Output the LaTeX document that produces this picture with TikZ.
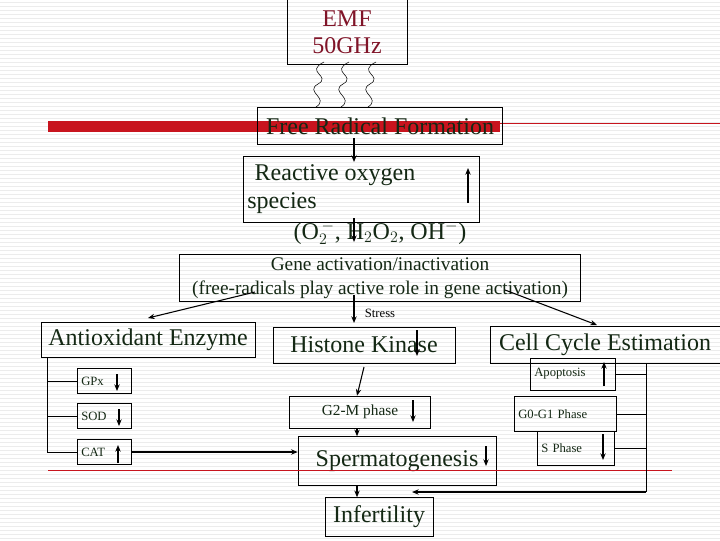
\documentclass[tikz,border=0pt]{standalone}
\usepackage{fontspec}
\setmainfont{Liberation Serif}
\usetikzlibrary{arrows.meta}
\definecolor{emfred}{RGB}{128,20,40}
\definecolor{bandred}{RGB}{200,20,30}
\definecolor{txtgreen}{RGB}{20,40,20}
\begin{document}
\begin{tikzpicture}[x=0.75pt,y=-0.75pt,every path/.style={thick},
  box/.style={draw,thin,rectangle,inner sep=0pt,text=txtgreen},
  sbox/.style={box,small,align=left,inner xsep=3pt,minimum height=18.75},
  arr/.style={-{Stealth[length=5pt,width=4pt]}},
  big/.style={font=\fontsize{18}{20}\selectfont},
  mid/.style={font=\fontsize{14.5}{18}\selectfont},
  small/.style={font=\fontsize{9.5}{11}\selectfont}]
  \useasboundingbox (0,0) rectangle (720,540);
  % stripes
  \foreach \y in {2,6,...,538} \draw[very thin,gray!15] (0,\y) -- (720,\y);
  % top
  \node[box,minimum width=90,minimum height=48.75,text=emfred,big,align=center] (emf) at (347,32) {EMF\\50GHz};
  \foreach \x in {318,343,370}
    \draw[thin] (\x+6,62) .. controls (\x-14,72) and (\x+14,76) .. (\x,84)
      .. controls (\x-14,92) and (\x+12,98) .. (\x-2,107);
  \fill[bandred] (48,121) rectangle (500,132);
  \draw[thin,bandred] (500,123) -- (720,123);
  \node[box,minimum width=183.75,minimum height=27.75,big] (frf) at (380,126) {Free Radical Formation};
  \node[box,minimum width=177,minimum height=49.5] (ros) at (361,189) {};
  \node[big,text=txtgreen] (rosa) at (335,175) {Reactive oxygen};
  \node[big,text=txtgreen] (rosb) at (282,203) {species};
  \node[big,text=txtgreen] (rosc) at (380,233) {(O$_2^{\,-}$, H$_2$O$_2$, OH$^-$)};
  \draw[arr] (468,203) -- (468,168);
  \draw[arr] (354,138) -- (354,162);
  \draw[arr] (354,218) -- (354,242);
  \node[box,minimum width=300.75,minimum height=35.25,mid,align=center] (gene) at (380,278)
    {Gene activation/inactivation\\(free-radicals play active role in gene activation)};
  % middle row
  \node[box,minimum width=160.5,minimum height=26.25,big] (anti) at (148,340) {Antioxidant Enzyme};
  \node[box,minimum width=136.5,minimum height=27,big] (hist) at (364,345) {Histone Kinase};
  \node[box,minimum width=172.5,minimum height=27.75,big] (cell) at (605,344.5) {Cell Cycle Estimation};
  \draw[arr] (255,292) -- (148,318);
  \draw[arr] (354,295) -- (354,323);
  \node[small] (stress) at (380,313) {Stress};
  \draw[arr] (505,290) -- (597,325);
  \draw[arr] (417,330) -- (417,356);
  % antioxidants
  \node[sbox,text width=34.5pt,anchor=west] (gpx) at (77,381) {GPx};
  \node[sbox,text width=34.5pt,anchor=west] (sod) at (77,416) {SOD};
  \node[sbox,text width=34.5pt,anchor=west] (cat) at (77,452) {CAT};
  \draw[thin] (47,357) -- (47,453);
  \foreach \n in {gpx,sod,cat} \draw[thin] (47,0 |- \n.west) -- (\n.west);
  \draw[arr] (117,374) -- (117,391);
  \draw[arr] (119,409) -- (119,426);
  \draw[arr] (118,463) -- (118,445);
  % centre chain
  \node[box,minimum width=105.75,minimum height=24,font=\fontsize{11.5}{13}\selectfont] (g2m) at (360,412) {G2-M phase\hspace{3em}};
  \node[box,minimum width=148.5,minimum height=36.75,big] (sperm) at (397,461) {Spermatogenesis\hspace{1em}};
  \node[box,minimum width=81,minimum height=29.25,big] (infer) at (379,517) {Infertility};
  \draw[arr] (364,367) -- (g2m.north -| 357,0);
  \draw[arr] (413,400) -- (413,422);
  \draw[arr] (g2m.south -| 357,0) -- (sperm.north -| 357,0);
  \draw[arr] (cat.east) -- (sperm.west |- cat.east);
  \draw[arr] (486,446) -- (486,466);
  \draw[arr] (sperm.south -| 357,0) -- (infer.north -| 357,0);
  \draw[thin,bandred] (48,470) -- (672,470);
  % cell cycle branch
  \node[sbox,text width=57.75pt,minimum height=24,anchor=west] (apo) at (530,374) {Apoptosis};
  \node[sbox,text width=70.5pt,minimum height=26.25,anchor=west] (g0g1) at (514,414) {G0-G1 Phase};
  \node[sbox,text width=51.75pt,minimum height=25.5,anchor=west] (sph) at (537,448) {S Phase};
  \draw[arr] (604,386) -- (604,362);
  \draw[arr] (603,434) -- (603,460);
  \coordinate (rail) at (646,492);
  \draw[thin] (646,363) -- (646,492);
  \foreach \n in {apo,g0g1,sph} \draw[thin] (\n.east) -- (646,0 |- \n.east);
  \draw[arr] (rail) -- (412,492);
\end{tikzpicture}
\end{document}
